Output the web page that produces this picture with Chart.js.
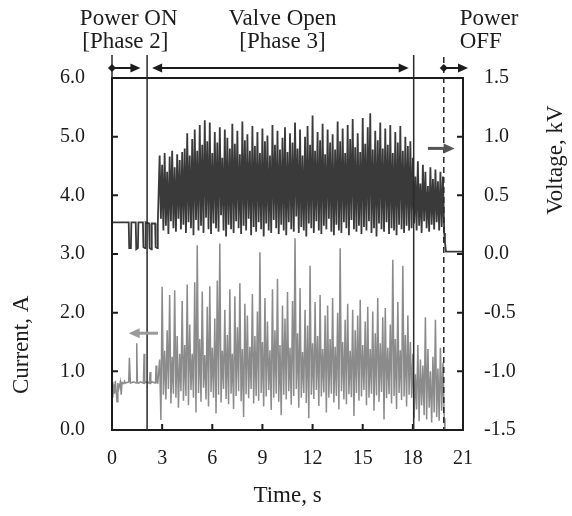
<!DOCTYPE html>
<html>
<head>
<meta charset="utf-8">
<title>Current and voltage during discharge</title>
<script src="https://cdn.jsdelivr.net/npm/chart.js@4.4.1/dist/chart.umd.min.js"></script>
<style>
  html, body { margin: 0; padding: 0; background: #ffffff; }
  #wrap { width: 572px; height: 516px; }
</style>
</head>
<body>
<div id="wrap"><canvas id="cv" width="572" height="516"></canvas></div>
<script>
// ---- Phase 2 (power on, valve closed): irregular samples ----
const PRE_V_TIME = [0.00, 1.00, 1.03, 1.13, 1.16, 1.42, 1.45, 1.55, 1.58, 1.85, 1.88, 1.98, 2.01, 2.22, 2.25, 2.35, 2.38, 2.58, 2.61, 2.71, 2.74];
const PRE_VOLTAGE = [0.27, 0.27, 0.05, 0.05, 0.27, 0.27, 0.04, 0.05, 0.27, 0.27, 0.06, 0.05, 0.27, 0.26, 0.05, 0.04, 0.26, 0.26, 0.06, 0.05, 0.26];

const PRE_I_TIME = [0.00, 0.05, 0.10, 0.15, 0.20, 0.30, 0.35, 0.40, 0.50, 0.55, 0.60, 0.70, 0.75, 0.80, 0.90, 1.00, 1.04, 1.10, 1.20, 1.30, 1.44, 1.48, 1.52, 1.60, 1.70, 1.80, 1.88, 1.92, 1.96, 2.05, 2.15, 2.24, 2.28, 2.32, 2.40, 2.50, 2.60, 2.64, 2.68, 2.74];
const PRE_CURRENT = [0.82, 0.55, 0.78, 0.62, 0.84, 0.48, 0.80, 0.70, 0.82, 0.60, 0.81, 0.79, 0.83, 0.80, 0.81, 0.82, 1.23, 0.80, 0.81, 0.82, 0.80, 1.48, 0.81, 0.80, 0.82, 0.81, 0.80, 1.30, 0.80, 0.82, 0.81, 0.80, 0.99, 0.80, 0.82, 0.81, 0.80, 1.10, 0.81, 0.80];

// ---- Phase 3 and after valve closing: one peak + one trough per step ----
const MAIN_START = 2.85;   // s
const MAIN_STEP = 0.15;    // s

const VOLTAGE_PEAK = [
  0.84, 0.76, 0.86, 0.70, 0.83, 0.88, 0.74, 0.85, 0.80, 0.87,
  0.90, 1.03, 0.84, 0.98, 1.06, 0.88, 1.10, 0.93, 1.14, 0.96,
  1.12, 0.86, 1.04, 0.95, 1.08, 0.82, 1.06, 0.99, 0.90, 1.11,
  0.94, 1.05, 0.85, 1.13, 0.97, 1.02, 0.88, 1.09, 0.92, 1.04,
  0.86, 1.07, 0.96, 1.01, 0.84, 1.10, 0.93, 1.05, 0.89, 0.99,
  1.08, 0.87, 1.03, 0.95, 1.12, 0.90, 1.06, 0.84, 1.00, 1.09,
  0.93, 1.18, 0.88, 1.04, 0.97, 1.11, 0.85, 1.06, 0.95, 1.02,
  0.89, 1.13, 0.96, 1.07, 0.86, 1.10, 0.98, 1.15, 0.91, 1.03,
  0.87, 1.16, 0.94, 1.08, 1.20, 0.89, 1.05, 0.97, 1.12, 0.90,
  1.07, 0.93, 1.10, 0.86, 1.04, 0.95, 1.09, 0.88, 1.00, 0.92,
  0.96, 0.82, 0.66, 0.79, 0.60, 0.76, 0.70, 0.58, 0.74, 0.64,
  0.72, 0.62, 0.70, 0.66
];
const VOLTAGE_TROUGH = [
  0.30, 0.20, 0.24, 0.17, 0.28, 0.22, 0.19, 0.30, 0.21, 0.25,
  0.18, 0.27, 0.22, 0.16, 0.29, 0.20, 0.24, 0.18, 0.31, 0.21,
  0.17, 0.26, 0.22, 0.19, 0.33, 0.20, 0.15, 0.25, 0.21, 0.18,
  0.28, 0.22, 0.17, 0.24, 0.20, 0.30, 0.16, 0.23, 0.19, 0.27,
  0.21, 0.15, 0.26, 0.20, 0.18, 0.29, 0.22, 0.17, 0.25, 0.20,
  0.16, 0.27, 0.21, 0.19, 0.32, 0.18, 0.23, 0.20, 0.15, 0.26,
  0.22, 0.18, 0.28, 0.20, 0.17, 0.24, 0.21, 0.30, 0.19, 0.16,
  0.25, 0.20, 0.18, 0.27, 0.22, 0.16, 0.29, 0.21, 0.19, 0.24,
  0.17, 0.23, 0.20, 0.28, 0.18, 0.22, 0.15, 0.26, 0.21, 0.19,
  0.27, 0.17, 0.22, 0.20, 0.16, 0.25, 0.21, 0.18, 0.24, 0.20,
  0.22, 0.26, 0.20, 0.24, 0.18, 0.28, 0.22, 0.19, 0.25, 0.21,
  0.27, 0.20, 0.23, 0.18
];
const CURRENT_PEAK = [
  1.20, 2.44, 1.35, 1.70, 2.30, 1.25, 2.38, 1.60, 1.30, 2.20,
  1.45, 2.48, 1.80, 1.30, 2.52, 3.15, 1.55, 2.36, 1.28, 2.10,
  2.45, 1.40, 1.90, 2.55, 3.18, 1.35, 2.05, 1.62, 2.40, 1.30,
  2.28, 1.75, 2.50, 1.38, 2.15, 1.95, 1.42, 2.32, 1.60, 2.02,
  3.03, 1.50, 2.25, 1.85, 1.36, 2.40, 1.70, 2.58, 1.45, 2.12,
  1.90, 2.35, 1.40, 2.20, 3.27, 1.65, 2.42, 1.33, 2.05, 1.78,
  2.80, 1.48, 2.18, 1.60, 2.30, 1.38, 1.95, 2.12, 1.55, 2.25,
  1.42, 2.00, 3.10, 1.50, 1.88, 2.15, 1.35, 2.05, 1.70, 1.95,
  2.22, 1.45, 1.85, 2.10, 1.38, 2.02, 1.65, 2.25, 1.48, 1.92,
  2.08, 1.40, 1.80, 2.90, 1.55, 2.18, 1.36, 2.80, 1.62, 1.95,
  1.50, 1.30, 0.95, 1.45, 1.20, 1.10, 1.92, 1.38, 1.00, 1.25,
  1.88, 1.05, 1.40, 1.15
];
const CURRENT_TROUGH = [
  0.17, 0.60, 0.52, 0.70, 0.45, 0.62, 0.55, 0.38, 0.66, 0.50,
  0.58, 0.42, 0.68, 0.55, 0.30, 0.63, 0.48, 0.72, 0.52, 0.40,
  0.65, 0.55, 0.28, 0.60, 0.47, 0.70, 0.53, 0.44, 0.62, 0.36,
  0.58, 0.66, 0.49, 0.22, 0.61, 0.54, 0.70, 0.45, 0.58, 0.50,
  0.63, 0.40, 0.57, 0.68, 0.34, 0.55, 0.62, 0.48, 0.25, 0.60,
  0.52, 0.66, 0.43, 0.58, 0.70, 0.38, 0.55, 0.63, 0.46, 0.20,
  0.60, 0.53, 0.68, 0.41, 0.57, 0.64, 0.30, 0.55, 0.62, 0.47,
  0.58, 0.35, 0.66, 0.52, 0.44, 0.61, 0.56, 0.24, 0.63, 0.50,
  0.57, 0.68, 0.42, 0.55, 0.62, 0.33, 0.59, 0.48, 0.65, 0.18,
  0.54, 0.61, 0.45, 0.58, 0.36, 0.63, 0.51, 0.57, 0.40, 0.60,
  0.55, 0.20, 0.35, 0.15, 0.42, 0.25, 0.18, 0.38, 0.13, 0.30,
  0.22, 0.16, 0.33, 0.20
];

// ---- Power off ----
const POST_TIME = [19.92, 19.98, 21.00];
const POST_VOLTAGE = [0.10, 0.02, 0.02];
const POST_CURRENT = [0.00, 0.00, 0.00];

// ---- Axis ticks ----
const TIME_TICKS = [0, 3, 6, 9, 12, 15, 18, 21];
const CURRENT_TICKS = [0, 1, 2, 3, 4, 5, 6];
const VOLTAGE_TICKS = [-1.5, -1.0, -0.5, 0, 0.5, 1.0, 1.5];

// ---- Event times (s) ----
const T_VALVE_OPEN = 2.1;
const T_VALVE_CLOSE = 18.05;
const T_POWER_OFF = 19.85;

function buildSeries(preT, preY, peaks, troughs, postT, postY) {
  const pts = preT.map((t, k) => ({ x: t, y: preY[k] }));
  peaks.forEach((p, i) => {
    const t = MAIN_START + i * MAIN_STEP;
    pts.push({ x: +t.toFixed(3), y: p });
    pts.push({ x: +(t + MAIN_STEP / 2).toFixed(3), y: troughs[i] });
  });
  postT.forEach((t, k) => pts.push({ x: t, y: postY[k] }));
  return pts;
}

const voltagePts = buildSeries(PRE_V_TIME, PRE_VOLTAGE, VOLTAGE_PEAK, VOLTAGE_TROUGH, POST_TIME, POST_VOLTAGE);
const currentPts = buildSeries(PRE_I_TIME, PRE_CURRENT, CURRENT_PEAK, CURRENT_TROUGH, POST_TIME, POST_CURRENT);

const SERIF = "'Liberation Serif', 'Times New Roman', serif";
Chart.defaults.font.family = SERIF;
Chart.defaults.color = '#1a1a1a';

function arrow(ctx, x1, y, x2, opts) {
  const { color, width, head = 10, half = 4.5, start = false, end = true } = opts;
  ctx.save();
  ctx.strokeStyle = color; ctx.fillStyle = color; ctx.lineWidth = width;
  const dir = Math.sign(x2 - x1);
  ctx.beginPath();
  ctx.moveTo(x1 + (start ? dir * head * 0.8 : 0), y);
  ctx.lineTo(x2 - (end ? dir * head * 0.8 : 0), y);
  ctx.stroke();
  const tri = (tipX, d) => {
    ctx.beginPath();
    ctx.moveTo(tipX, y);
    ctx.lineTo(tipX - d * head, y - half);
    ctx.lineTo(tipX - d * head, y + half);
    ctx.closePath();
    ctx.fill();
  };
  if (end) tri(x2, dir);
  if (start) tri(x1, -dir);
  ctx.restore();
}

function diamond(ctx, x, y, r, color) {
  ctx.save();
  ctx.fillStyle = color;
  ctx.beginPath();
  ctx.moveTo(x, y - r); ctx.lineTo(x + r, y); ctx.lineTo(x, y + r); ctx.lineTo(x - r, y);
  ctx.closePath(); ctx.fill();
  ctx.restore();
}

// Frame, inward ticks, phase markers, arrows and labels
const frameAndNotes = {
  id: 'frameAndNotes',
  afterDraw(chart) {
    const { ctx, chartArea: a, scales } = chart;
    const X = t => scales.x.getPixelForValue(t);
    const YI = v => scales.yI.getPixelForValue(v);
    const YV = v => scales.yV.getPixelForValue(v);
    const ink = '#1c1c1c';
    ctx.save();

    // plot frame
    ctx.strokeStyle = ink; ctx.lineWidth = 2;
    ctx.strokeRect(a.left, a.top, a.right - a.left, a.bottom - a.top);

    // inward tick marks
    ctx.beginPath();
    TIME_TICKS.slice(1, -1).forEach(t => { ctx.moveTo(X(t), a.bottom); ctx.lineTo(X(t), a.bottom - 6); });
    CURRENT_TICKS.slice(1, -1).forEach(v => { ctx.moveTo(a.left, YI(v)); ctx.lineTo(a.left + 6, YI(v)); });
    VOLTAGE_TICKS.slice(1, -1).forEach(v => { ctx.moveTo(a.right, YV(v)); ctx.lineTo(a.right - 6, YV(v)); });
    ctx.stroke();

    // phase boundary lines
    const topY = a.top - 23;
    const arrowY = a.top - 10;
    ctx.strokeStyle = '#2a2a2a'; ctx.lineWidth = 1.5;
    ctx.beginPath();
    ctx.moveTo(X(0), topY); ctx.lineTo(X(0), a.top);
    ctx.moveTo(X(T_VALVE_OPEN), topY); ctx.lineTo(X(T_VALVE_OPEN), a.bottom);
    ctx.moveTo(X(T_VALVE_CLOSE), topY); ctx.lineTo(X(T_VALVE_CLOSE), a.bottom);
    ctx.stroke();
    ctx.setLineDash([6, 4]);
    ctx.beginPath();
    ctx.moveTo(X(T_POWER_OFF), topY + 2); ctx.lineTo(X(T_POWER_OFF), a.bottom);
    ctx.stroke();
    ctx.setLineDash([]);

    // phase span arrows above the plot
    arrow(ctx, X(0), arrowY, X(1.7), { color: ink, width: 2 });
    diamond(ctx, X(0), arrowY, 4, ink);
    arrow(ctx, X(2.4), arrowY, X(17.75), { color: ink, width: 2, start: true, end: true });
    arrow(ctx, X(T_POWER_OFF), arrowY, X(21.3), { color: ink, width: 2 });
    diamond(ctx, X(T_POWER_OFF), arrowY, 4, ink);

    // series pointers to their axes
    arrow(ctx, X(18.9), YV(0.9), X(20.5), { color: '#555555', width: 3, head: 11, half: 5 });
    arrow(ctx, X(2.75), YI(1.65), X(1.0), { color: '#9a9a9a', width: 3, head: 11, half: 5 });

    // phase labels
    ctx.fillStyle = ink;
    ctx.font = '23px ' + SERIF;
    ctx.textBaseline = 'alphabetic';
    ctx.textAlign = 'center';
    ctx.fillText('Power ON', X(1.0), 25);
    ctx.fillText('[Phase 2]', X(0.8), 48);
    ctx.fillText('Valve Open', X(10.2), 25);
    ctx.fillText('[Phase 3]', X(10.2), 48);
    ctx.textAlign = 'left';
    ctx.fillText('Power', X(20.8), 25);
    ctx.fillText('OFF', X(20.8), 48);

    // axis titles
    ctx.textAlign = 'center';
    ctx.textBaseline = 'middle';
    ctx.save();
    ctx.translate(22, YI(1.45));
    ctx.rotate(-Math.PI / 2);
    ctx.fillText('Current, A', 0, 0);
    ctx.restore();
    ctx.save();
    ctx.translate(556, YV(0.8));
    ctx.rotate(-Math.PI / 2);
    ctx.fillText('Voltage, kV', 0, 0);
    ctx.restore();

    ctx.restore();
  }
};

const noGrid = { display: false, drawTicks: false };
const noBorder = { display: false };

new Chart(document.getElementById('cv'), {
  type: 'line',
  data: {
    datasets: [
      { label: 'Voltage, kV', data: voltagePts, yAxisID: 'yV', borderColor: '#3a3a3a', borderWidth: 1.8, pointRadius: 0, tension: 0 },
      { label: 'Current, A', data: currentPts, yAxisID: 'yI', borderColor: '#8b8b8b', borderWidth: 1.5, pointRadius: 0, tension: 0 }
    ]
  },
  options: {
    responsive: false,
    animation: false,
    events: [],
    layout: { padding: { top: 78, left: 0, right: 0, bottom: 0 } },
    plugins: { legend: { display: false }, tooltip: { enabled: false } },
    scales: {
      x: {
        type: 'linear', position: 'bottom', min: 0, max: 21,
        afterBuildTicks: s => { s.ticks = TIME_TICKS.map(v => ({ value: v })); },
        ticks: { padding: 17, font: { size: 20 }, maxRotation: 0, autoSkip: false, callback: v => String(v) },
        grid: noGrid, border: noBorder,
        title: { display: true, text: 'Time, s', font: { size: 23 }, padding: { top: 0, bottom: 6 } },
        afterFit: s => { s.height = 86; }
      },
      yI: {
        type: 'linear', position: 'left', min: 0, max: 6,
        afterBuildTicks: s => { s.ticks = CURRENT_TICKS.map(v => ({ value: v })); },
        ticks: { padding: 27, font: { size: 20 }, callback: v => Number(v).toFixed(1) },
        grid: noGrid, border: noBorder,
        afterFit: s => { s.width = 112; }
      },
      yV: {
        type: 'linear', position: 'right', min: -1.5, max: 1.5,
        afterBuildTicks: s => { s.ticks = VOLTAGE_TICKS.map(v => ({ value: v })); },
        ticks: { padding: 21, font: { size: 20 }, callback: v => Number(v).toFixed(1) },
        grid: noGrid, border: noBorder,
        afterFit: s => { s.width = 109; }
      }
    }
  },
  plugins: [frameAndNotes]
});
</script>
</body>
</html>
